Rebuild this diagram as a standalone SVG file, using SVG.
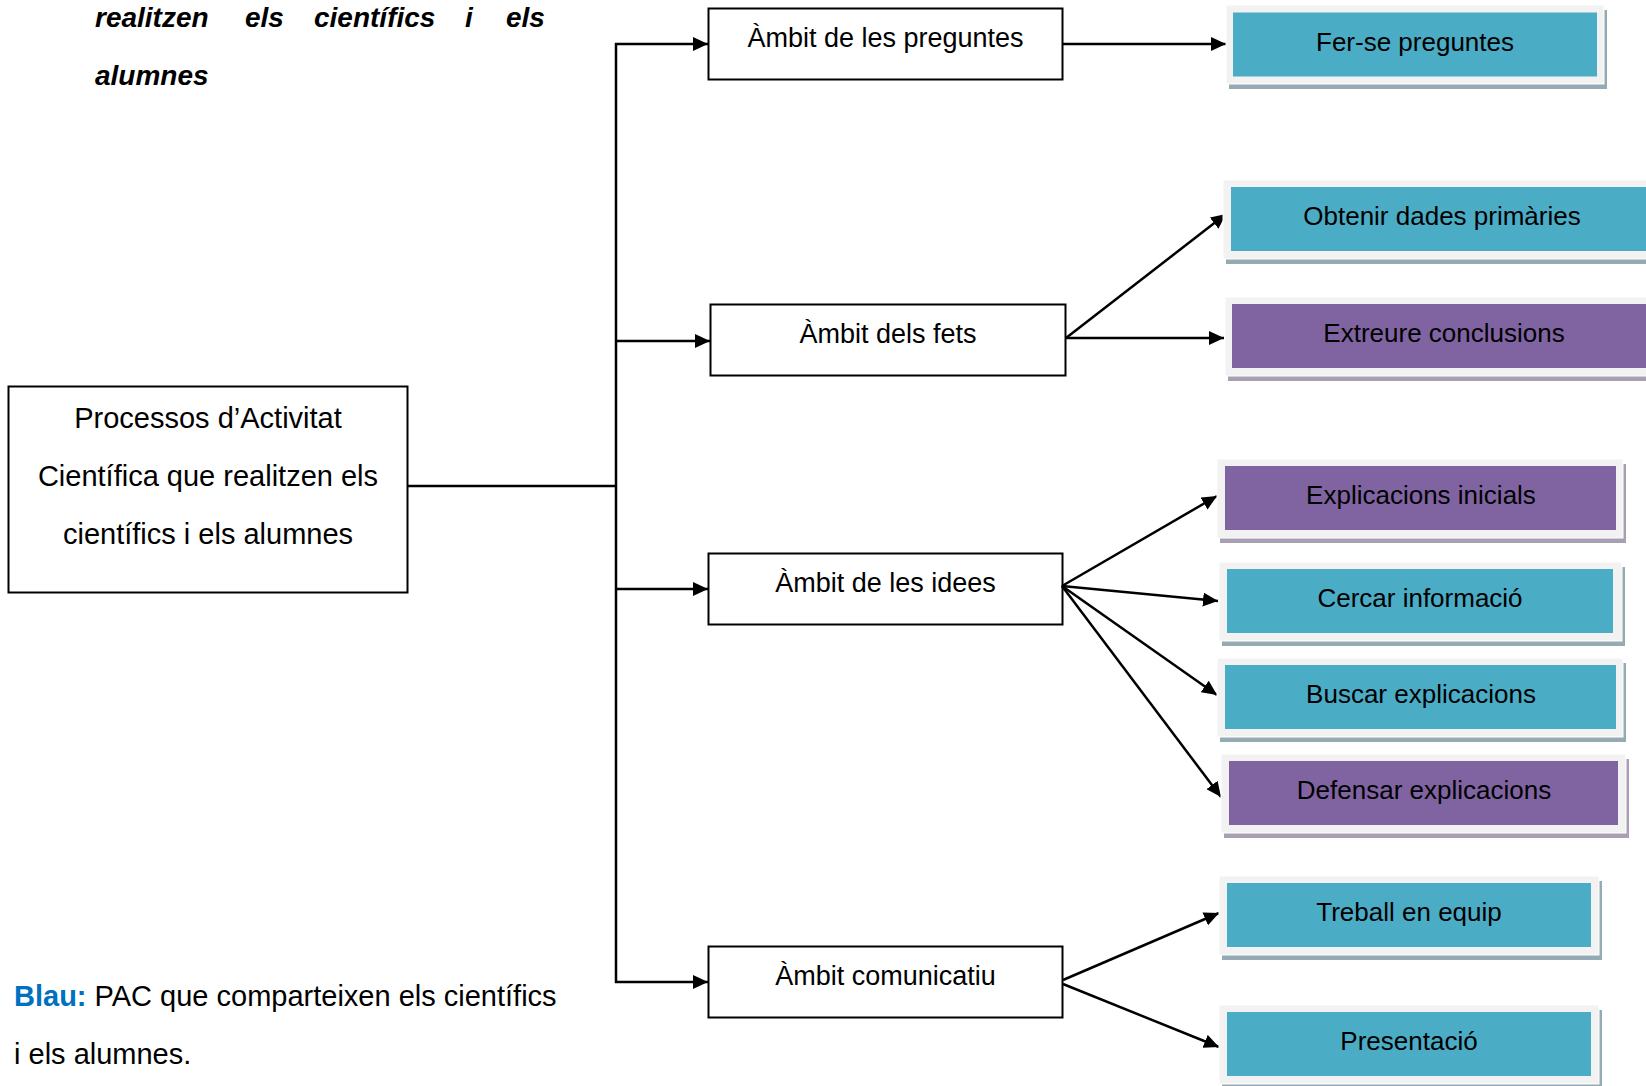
<svg xmlns="http://www.w3.org/2000/svg" width="1646" height="1086" viewBox="0 0 1646 1086">
  <style>
    text { font-family: "Liberation Sans", Arial, sans-serif; fill: #000; }
    .frame { fill: none; stroke: #000; stroke-width: 2; }
    .main { font-size: 29px; text-anchor: middle; }
    .mid { font-size: 27px; text-anchor: middle; }
    .leaf { font-size: 26px; text-anchor: middle; }
    .note { font-size: 29px; }
    .head { font-size: 28px; font-weight: bold; font-style: italic; }
    .outer { fill: #F2F2F2; stroke: #FFFFFF; stroke-width: 1; }
    .blue { fill: #4BACC6; }
    .purple { fill: #8064A2; }
    .sh-blue { fill: #94ABB4; }
    .sh-purple { fill: #A8A0B2; }
    .link { fill: none; stroke: #000; stroke-width: 2.5; }
  </style>
  <defs>
    <marker id="arrow" viewBox="0 0 15 14" refX="15" refY="7" markerWidth="15" markerHeight="14" markerUnits="userSpaceOnUse" orient="auto">
      <path d="M0,0 L15,7 L0,14 Z" fill="#000"/>
    </marker>
  </defs>

  <rect width="1646" height="1086" fill="#fff"/>

  <!-- heading fragment, justified -->
  <text class="head" y="27"><tspan x="95">realitzen</tspan><tspan x="245">els</tspan><tspan x="314">científics</tspan><tspan x="465">i</tspan><tspan x="506">els</tspan></text>
  <text class="head" x="95" y="85">alumnes</text>

  <!-- legend -->
  <text class="note" x="14" y="1006"><tspan font-weight="bold" fill="#0070C0">Blau:</tspan> PAC que comparteixen els científics</text>
  <text class="note" x="14" y="1064">i els alumnes.</text>

  <!-- connectors -->
  <g id="connectors">
    <polyline class="link" points="407,486 616,486"/>
    <line class="link" x1="616" y1="43" x2="616" y2="983"/>
    <line class="link" x1="615" y1="44" x2="708" y2="44" marker-end="url(#arrow)"/>
    <line class="link" x1="616" y1="341" x2="710" y2="341" marker-end="url(#arrow)"/>
    <line class="link" x1="616" y1="589" x2="708" y2="589" marker-end="url(#arrow)"/>
    <line class="link" x1="615" y1="982" x2="708" y2="982" marker-end="url(#arrow)"/>

    <line class="link" x1="1063" y1="44" x2="1226" y2="44" marker-end="url(#arrow)"/>

    <line class="link" x1="1066" y1="338" x2="1226" y2="214" marker-end="url(#arrow)"/>
    <line class="link" x1="1066" y1="338" x2="1224" y2="338" marker-end="url(#arrow)"/>

    <line class="link" x1="1062" y1="586" x2="1217" y2="496" marker-end="url(#arrow)"/>
    <line class="link" x1="1062" y1="586" x2="1218" y2="601" marker-end="url(#arrow)"/>
    <line class="link" x1="1062" y1="586" x2="1217" y2="695" marker-end="url(#arrow)"/>
    <line class="link" x1="1062" y1="586" x2="1221" y2="797" marker-end="url(#arrow)"/>

    <line class="link" x1="1063" y1="980" x2="1219" y2="913" marker-end="url(#arrow)"/>
    <line class="link" x1="1063" y1="984" x2="1219" y2="1047" marker-end="url(#arrow)"/>
  </g>

  <!-- root node -->
  <g id="node-pac">
    <rect class="frame" x="8.5" y="386.5" width="399" height="206"/>
    <text class="main" x="208" y="428">Processos d’Activitat</text>
    <text class="main" x="208" y="486">Científica que realitzen els</text>
    <text class="main" x="208" y="544">científics i els alumnes</text>
  </g>

  <!-- domains -->
  <g id="node-preguntes">
    <rect class="frame" x="708.5" y="8.5" width="354" height="71"/>
    <text class="mid" x="885.5" y="47">Àmbit de les preguntes</text>
  </g>
  <g id="node-fets">
    <rect class="frame" x="710.5" y="304.5" width="355" height="71"/>
    <text class="mid" x="888" y="343">Àmbit dels fets</text>
  </g>
  <g id="node-idees">
    <rect class="frame" x="708.5" y="553.5" width="354" height="71"/>
    <text class="mid" x="885.5" y="592">Àmbit de les idees</text>
  </g>
  <g id="node-comunicatiu">
    <rect class="frame" x="708.5" y="946.5" width="354" height="71"/>
    <text class="mid" x="885.5" y="985">Àmbit comunicatiu</text>
  </g>

  <!-- processes -->
  <g id="node-fer-se-preguntes">
    <rect class="sh-blue" x="1229" y="10" width="378" height="79"/>
    <rect class="outer" x="1226" y="5" width="378" height="79"/>
    <rect class="blue" x="1233" y="12.5" width="364" height="64"/>
    <text class="leaf" x="1415" y="51">Fer-se preguntes</text>
  </g>
  <g id="node-obtenir-dades">
    <rect class="sh-blue" x="1226" y="185" width="440" height="79"/>
    <rect class="outer" x="1223" y="180" width="440" height="79"/>
    <rect class="blue" x="1231" y="187" width="430" height="64"/>
    <text class="leaf" x="1442" y="225">Obtenir dades primàries</text>
  </g>
  <g id="node-extreure">
    <rect class="sh-purple" x="1228" y="302" width="440" height="79"/>
    <rect class="outer" x="1225" y="297" width="440" height="79"/>
    <rect class="purple" x="1232" y="304" width="430" height="64"/>
    <text class="leaf" x="1444" y="342">Extreure conclusions</text>
  </g>
  <g id="node-explicacions-inicials">
    <rect class="sh-purple" x="1220" y="464" width="406" height="79"/>
    <rect class="outer" x="1217" y="459" width="406" height="79"/>
    <rect class="purple" x="1225" y="466" width="391" height="64"/>
    <text class="leaf" x="1421" y="504">Explicacions inicials</text>
  </g>
  <g id="node-cercar">
    <rect class="sh-blue" x="1222" y="567" width="403" height="79"/>
    <rect class="outer" x="1219" y="562" width="403" height="79"/>
    <rect class="blue" x="1227" y="569" width="386" height="64"/>
    <text class="leaf" x="1420" y="607">Cercar informació</text>
  </g>
  <g id="node-buscar">
    <rect class="sh-blue" x="1220" y="663" width="406" height="79"/>
    <rect class="outer" x="1217" y="658" width="406" height="79"/>
    <rect class="blue" x="1225" y="665" width="391" height="64"/>
    <text class="leaf" x="1421" y="703">Buscar explicacions</text>
  </g>
  <g id="node-defensar">
    <rect class="sh-purple" x="1224" y="759" width="405" height="79"/>
    <rect class="outer" x="1221" y="754" width="405" height="79"/>
    <rect class="purple" x="1229" y="761" width="389" height="64"/>
    <text class="leaf" x="1424" y="799">Defensar explicacions</text>
  </g>
  <g id="node-treball">
    <rect class="sh-blue" x="1222" y="881" width="380" height="79"/>
    <rect class="outer" x="1219" y="876" width="380" height="79"/>
    <rect class="blue" x="1227" y="883" width="364" height="64"/>
    <text class="leaf" x="1409" y="921">Treball en equip</text>
  </g>
  <g id="node-presentacio">
    <rect class="sh-blue" x="1222" y="1010" width="380" height="79"/>
    <rect class="outer" x="1219" y="1005" width="380" height="79"/>
    <rect class="blue" x="1227" y="1012" width="364" height="64"/>
    <text class="leaf" x="1409" y="1050">Presentació</text>
  </g>
</svg>
